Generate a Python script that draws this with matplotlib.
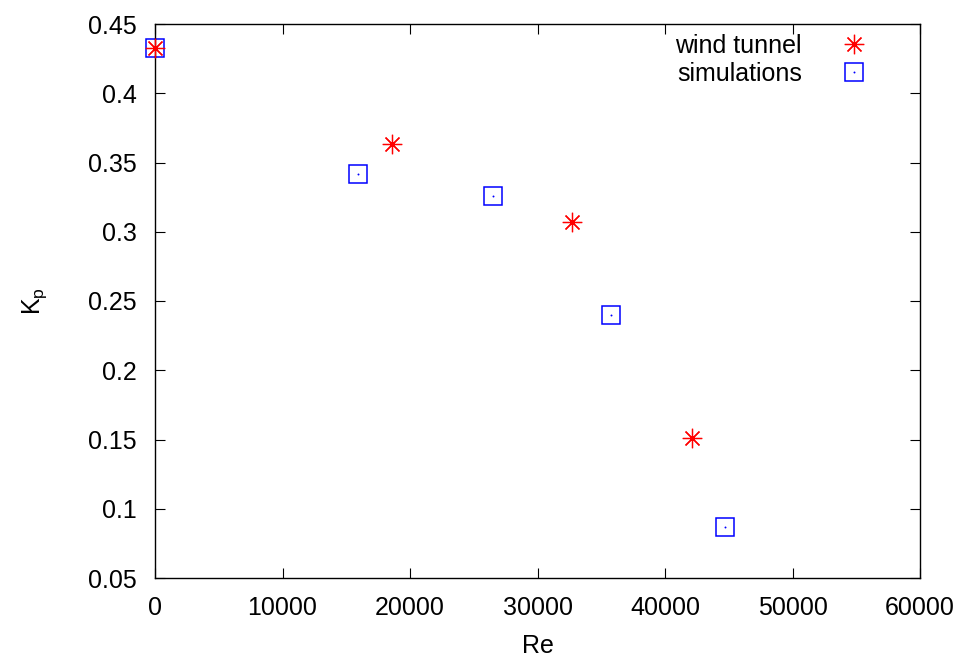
import matplotlib
matplotlib.use("Agg")
import matplotlib.pyplot as plt
from matplotlib.legend_handler import HandlerTuple

plt.rcParams["font.family"] = ["Liberation Sans", "DejaVu Sans"]
plt.rcParams["mathtext.fontset"] = "custom"
plt.rcParams["mathtext.rm"] = "Liberation Sans"

# wind tunnel measurements
re_tunnel = [0, 18600, 32700, 42100]
kp_tunnel = [0.433, 0.363, 0.307, 0.151]

# simulations
re_sim = [0, 15900, 26500, 35800, 44700]
kp_sim = [0.433, 0.342, 0.326, 0.240, 0.087]

fig = plt.figure(figsize=(9.63, 6.6), dpi=100)
ax = fig.add_axes([155 / 963, 1 - 578 / 660, 765 / 963, 554 / 660])

star = ax.plot(re_tunnel, kp_tunnel, linestyle="none", marker=(8, 2, 0),
               markersize=14, markeredgewidth=0.9, color="red", zorder=3,
               clip_on=False)[0]
sq = ax.plot(re_sim, kp_sim, linestyle="none", marker="s", markersize=13,
             markerfacecolor="none", markeredgecolor="blue",
             markeredgewidth=1.1, zorder=2, clip_on=False)[0]
dot = ax.plot(re_sim, kp_sim, linestyle="none", marker="o", markersize=1.4,
              color="blue", markeredgewidth=0, zorder=2, clip_on=False)[0]

ax.set_xlim(0, 60000)
ax.set_ylim(0.05, 0.45)
ax.set_xticks(range(0, 60001, 10000))
ax.set_yticks([0.05, 0.1, 0.15, 0.2, 0.25, 0.3, 0.35, 0.4, 0.45])
ax.set_yticklabels(["0.05", "0.1", "0.15", "0.2", "0.25", "0.3", "0.35", "0.4", "0.45"])
ax.tick_params(direction="in", top=True, right=True, length=7, width=0.8,
               labelsize=18, pad=13)
for s in ax.spines.values():
    s.set_linewidth(1.0)

ax.set_xlabel("Re", fontsize=18, labelpad=10)
ax.set_ylabel(r"K$_\mathregular{p}$", fontsize=18, labelpad=28)

ax.legend([star, (sq, dot)], ["wind tunnel", "simulations"],
          handler_map={tuple: HandlerTuple(ndivide=1, pad=0)},
          loc="upper right", frameon=False, markerfirst=False, fontsize=18,
          handlelength=1.2, handletextpad=1.5, labelspacing=0.15,
          borderaxespad=0.0, bbox_to_anchor=(0.947, 1.0))

fig.savefig("out.png", dpi=100)
